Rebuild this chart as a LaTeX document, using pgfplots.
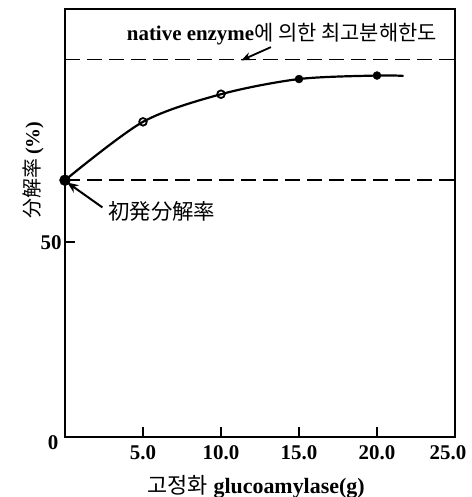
\documentclass[border=0pt]{standalone}
\usepackage{pgfplots}
\pgfplotsset{compat=1.18}
\usetikzlibrary{arrows.meta}
\usepackage{fontspec}
\setmainfont{Liberation Serif}
\newfontfamily\kr{Noto Sans CJK KR}
\newfontfamily\jp{Noto Sans CJK JP}
\begin{document}
\begin{tikzpicture}
\useasboundingbox (-65bp,-60bp) rectangle (407bp,437bp);
\begin{axis}[
  at={(0,0)}, anchor=south west,
  width=390bp, height=428bp, scale only axis,
  xmin=0, xmax=25, ymin=0, ymax=110,
  clip=false,
  axis line style={line width=2bp},
  xtick={5,10,15,20,25}, xticklabels={5.0,10.0,15.0,20.0,25.0\hspace*{14bp}},
  ytick={50}, yticklabels={50},
  tick align=inside, xtick pos=bottom, ytick pos=left,
  major tick length=10bp,
  tick style={line width=2bp, black},
  ticklabel style={font=\fontsize{21}{23}\selectfont\bfseries},
  xticklabel style={yshift=-5bp},
  xlabel={{\kr 고정화} \textbf{glucoamylase(g)}},
  xlabel style={font=\fontsize{22}{24}\selectfont, at={(axis description cs:0.49,-0.117)}, anchor=center},
  ylabel={{\jp 分解率}\,\textbf{(\%)}},
  ylabel style={font=\fontsize{20}{22}\selectfont, at={(axis description cs:-0.082,0.624)}, anchor=center},
]
\addplot[black, line width=1.8bp, dash pattern=on 15bp off 7bp] coordinates {(0,97) (25,97)};
\addplot[black, line width=1.8bp, dash pattern=on 15bp off 7bp] coordinates {(0,66) (25,66)};
\addplot[black, line width=2.2bp, smooth] coordinates {(0,66) (5,81) (10,88.1) (15,92) (20,92.9) (21.7,92.8)};
\addplot[black, only marks, mark=o, mark size=3.8bp, mark options={line width=1.8bp}] coordinates {(5,81) (10,88.1)};
\addplot[black, only marks, mark=*, mark size=4bp] coordinates {(15,92) (20,92.9)};
\addplot[black, only marks, mark=*, mark size=5.5bp] coordinates {(0,66)};
\node[font=\fontsize{21}{23}\selectfont\bfseries] at (axis cs:13.9,103.6) {native enzyme{\kr\mdseries 에 의한 최고분해한도}};
\draw[-{Stealth[length=10bp,width=8bp]}, line width=1.8bp] (axis cs:13.2,100.2) -- (axis cs:11.3,96.8);
\node[font=\fontsize{21.5}{23}\selectfont\jp] at (axis cs:6.2,58) {初発分解率};
\draw[-{Stealth[length=11bp,width=9bp]}, line width=2bp] (axis cs:2.4,59) -- (axis cs:0.15,65.4);
\node[font=\fontsize{21}{23}\selectfont\bfseries] at ([xshift=-12bp,yshift=-6bp]axis cs:0,0) {0};
\end{axis}
\end{tikzpicture}
\end{document}
